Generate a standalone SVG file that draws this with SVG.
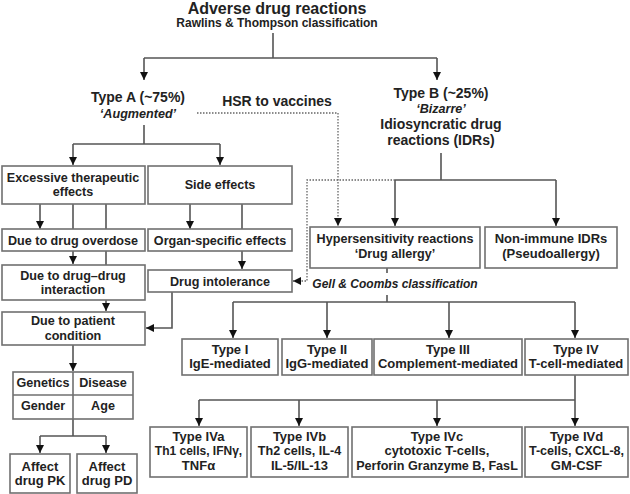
<svg xmlns="http://www.w3.org/2000/svg" width="630" height="494" viewBox="0 0 630 494">
<style>
text{font-family:"Liberation Sans",Arial,sans-serif;font-weight:bold;fill:#222;text-anchor:middle}
.t{font-size:16px}.s{font-size:12px}.h{font-size:14px}.b{font-size:12.6px}.c{font-size:13px}.i{font-style:italic}
.box{fill:#fff;stroke:#707070;stroke-width:1.6}
.ln{fill:none;stroke:#555;stroke-width:1.6}
.ar{fill:none;stroke:#555;stroke-width:1.6;marker-end:url(#a)}
.dt{fill:none;stroke:#666;stroke-width:1.3;stroke-dasharray:1.5 1.5}
.da{fill:none;stroke:#666;stroke-width:1.3;stroke-dasharray:1.5 1.5;marker-end:url(#a)}
</style>
<defs>
<marker id="a" viewBox="0 0 10 10" refX="10" refY="5" markerWidth="8" markerHeight="8" markerUnits="userSpaceOnUse" orient="auto"><path d="M0,0L10,5L0,10z" fill="#111"/></marker>
</defs>
<rect width="630" height="494" fill="#fff"/>
<g id="connectors">
<path class="ln" d="M273,33V58M144,58H437"/>
<path class="ar" d="M144,58V80"/>
<path class="ar" d="M437,58V80"/>
<path class="ln" d="M144,125V144M73,144H220"/>
<path class="ar" d="M73,144V165"/>
<path class="ar" d="M220,144V165"/>
<path class="ar" d="M40,204V229"/>
<path class="ln" d="M73,204V229M106,204V229M106,251V265M242,204V229"/>
<path class="ar" d="M73,251V264"/>
<path class="ar" d="M106,300V311"/>
<path class="ar" d="M190,204V229"/>
<path class="ar" d="M242,251V269"/>
<path class="ar" d="M172,292V328H146"/>
<path class="ar" d="M73,345V371"/>
<path class="ln" d="M73,419V436M40,436H106"/>
<path class="ar" d="M40,436V453"/>
<path class="ar" d="M106,436V453"/>
<path class="ln" d="M441,153V180M395,180H556"/>
<path class="ar" d="M395,180V226"/>
<path class="ar" d="M556,180V226"/>
<path class="dt" d="M197,113H338V200"/>
<path class="da" d="M338,200V226"/>
<path class="dt" d="M395,180H307V270"/>
<path class="da" d="M307,270V281H293"/>
<path class="ln" d="M387,268V273M387,295V302M233,302H575"/>
<path class="ar" d="M233,302V338"/>
<path class="ar" d="M327,302V338"/>
<path class="ar" d="M449,302V338"/>
<path class="ar" d="M575,302V338"/>
<path class="ln" d="M575,375V400M199,400H575"/>
<path class="ar" d="M199,400V426"/>
<path class="ar" d="M299,400V426"/>
<path class="ar" d="M437,400V426"/>
<path class="ar" d="M575,400V426"/>
</g>
<g id="title"><text class="t" x="277" y="14">Adverse drug reactions</text><text class="s" x="277" y="27">Rawlins &amp; Thompson classification</text></g>
<g id="typeA"><text class="h" x="138" y="102">Type A (~75%)</text><text class="b i" x="138" y="118">‘Augmented’</text></g>
<g id="hsr"><text class="h" x="277" y="106">HSR to vaccines</text></g>
<g id="typeB"><text class="h" x="441" y="98">Type B (~25%)</text><text class="b i" x="441" y="113">‘Bizarre’</text><text class="h" x="441" y="129">Idiosyncratic drug</text><text class="h" x="441" y="145">reactions (IDRs)</text></g>
<g id="excessive"><rect class="box" x="2" y="166" width="143" height="38"/><text class="b" x="73" y="182">Excessive therapeutic</text><text class="b" x="73" y="196">effects</text></g>
<g id="side"><rect class="box" x="148" y="166" width="144" height="38"/><text class="b" x="220" y="189">Side effects</text></g>
<g id="overdose"><rect class="box" x="2" y="229" width="143" height="22"/><text class="b" x="73" y="244.5">Due to drug overdose</text></g>
<g id="organ"><rect class="box" x="148" y="229" width="144" height="22"/><text class="b" x="220" y="244.5">Organ-specific effects</text></g>
<g id="ddi"><rect class="box" x="2" y="265" width="143" height="35"/><text class="b" x="73" y="280">Due to drug–drug</text><text class="b" x="73" y="294">interaction</text></g>
<g id="intolerance"><rect class="box" x="148" y="270" width="144" height="22"/><text class="b" x="220" y="285.5">Drug intolerance</text></g>
<g id="patient"><rect class="box" x="2" y="312" width="143" height="33"/><text class="b" x="73" y="325">Due to patient</text><text class="b" x="73" y="340">condition</text></g>
<g id="factors"><rect class="box" x="13" y="372" width="120" height="47"/><path class="ln" d="M13,395H133M73,372V419" style="stroke:#707070"/><text class="b" x="43" y="387">Genetics</text><text class="b" x="103" y="387">Disease</text><text class="b" x="43" y="410">Gender</text><text class="b" x="103" y="410">Age</text></g>
<g id="pk"><rect class="box" x="10" y="454" width="60" height="39"/><text class="c" x="40" y="471">Affect</text><text class="c" x="40" y="485">drug PK</text></g>
<g id="pd"><rect class="box" x="77" y="454" width="60" height="39"/><text class="c" x="107" y="471">Affect</text><text class="c" x="107" y="485">drug PD</text></g>
<g id="hypersensitivity"><rect class="box" x="310" y="227" width="170" height="41"/><text class="b" x="395" y="243">Hypersensitivity reactions</text><text class="b" x="395" y="258">‘Drug allergy’</text></g>
<g id="nonimmune"><rect class="box" x="485" y="227" width="132" height="41"/><text class="c" x="551" y="243">Non-immune IDRs</text><text class="c" x="551" y="258">(Pseudoallergy)</text></g>
<g id="gell"><text class="s i" x="395" y="288">Gell &amp; Coombs classification</text></g>
<g id="t1"><rect class="box" x="182" y="339" width="96" height="36"/><text class="c" x="230" y="354">Type I</text><text class="c" x="230" y="368">IgE-mediated</text></g>
<g id="t2"><rect class="box" x="282" y="339" width="90" height="36"/><text class="c" x="327" y="354">Type II</text><text class="c" x="327" y="368">IgG-mediated</text></g>
<g id="t3"><rect class="box" x="374" y="339" width="148" height="36"/><text class="c" x="448" y="354">Type III</text><text class="c" x="448" y="368">Complement-mediated</text></g>
<g id="t4"><rect class="box" x="525" y="339" width="103" height="36"/><text class="c" x="576" y="354">Type IV</text><text class="c" x="576" y="368">T-cell-mediated</text></g>
<g id="t4a"><rect class="box" x="150" y="427" width="97" height="50"/><text class="c" x="198.5" y="441">Type IVa</text><text class="b" x="198.5" y="455" style="font-size:12px">Th1  cells, IFNγ,</text><text class="c" x="198.5" y="470">TNFα</text></g>
<g id="t4b"><rect class="box" x="251" y="427" width="97" height="50"/><text class="c" x="299.5" y="441">Type IVb</text><text class="b" x="299.5" y="455">Th2 cells, IL-4</text><text class="c" x="299.5" y="470">IL-5/IL-13</text></g>
<g id="t4c"><rect class="box" x="352" y="427" width="170" height="50"/><text class="c" x="437" y="441">Type IVc</text><text class="c" x="437" y="455">cytotoxic T-cells,</text><text class="b" x="437" y="470">Perforin Granzyme B, FasL</text></g>
<g id="t4d"><rect class="box" x="525" y="427" width="103" height="50"/><text class="c" x="576.5" y="441">Type IVd</text><text class="b" x="576.5" y="455">T-cells, CXCL-8,</text><text class="c" x="576.5" y="470">GM-CSF</text></g>
</svg>
